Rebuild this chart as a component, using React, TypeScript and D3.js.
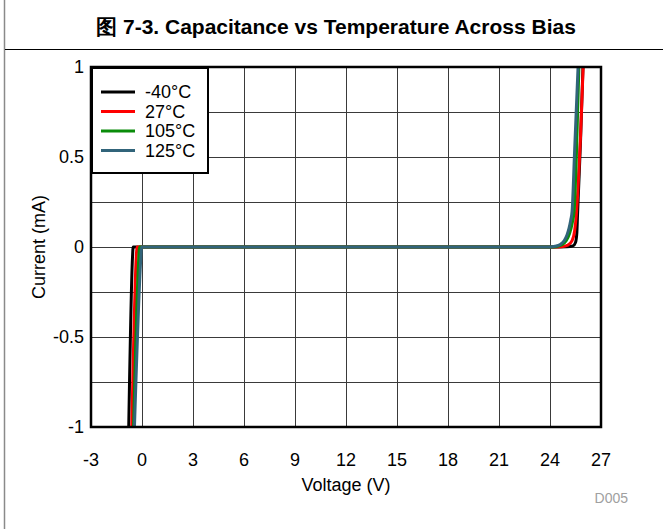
import React from 'react';
import * as d3 from 'd3';

// Temperature series labels and colours
const seriesNames = ['-40°C', '27°C', '105°C', '125°C'];
const seriesColors = ['#000000', '#ff0000', '#0a8c0a', '#31647a'];

// Voltage (V) / current (mA) samples per temperature
const voltsM40 = [-0.79, -0.56, -0.52, 0, 6, 12, 18, 24, 25.0, 25.35, 25.5, 25.58, 25.62, 25.68, 25.8, 25.94, 25.97];
const currM40 = [-1.05, -0.06, 0, 0, 0, 0, 0, 0, 0.001, 0.006, 0.025, 0.08, 0.18, 0.32, 0.6, 1.0, 1.06];

const volts27 = [-0.61, -0.34, -0.3, 0, 6, 12, 18, 24, 24.7, 25.05, 25.3, 25.45, 25.55, 25.65, 25.8, 25.95, 25.98];
const curr27 = [-1.05, -0.06, 0, 0, 0, 0, 0, 0, 0.002, 0.01, 0.035, 0.09, 0.18, 0.33, 0.62, 1.0, 1.06];

const volts105 = [-0.51, -0.19, -0.15, 0, 6, 12, 18, 24, 24.4, 24.7, 24.95, 25.15, 25.3, 25.42, 25.55, 25.7, 25.72];
const curr105 = [-1.05, -0.06, 0, 0, 0, 0, 0, 0, 0.003, 0.012, 0.035, 0.075, 0.13, 0.2, 0.5, 1.0, 1.05];

const volts125 = [-0.46, -0.07, -0.03, 0, 6, 12, 18, 24, 24.3, 24.6, 24.85, 25.0, 25.12, 25.22, 25.3, 25.45, 25.65, 25.68];
const curr125 = [-1.05, -0.06, 0, 0, 0, 0, 0, 0, 0.004, 0.014, 0.038, 0.067, 0.105, 0.15, 0.2, 0.54, 1.0, 1.07];

const xTicks = [-3, 0, 3, 6, 9, 12, 15, 18, 21, 24, 27];
const yTicks = [-1, -0.5, 0, 0.5, 1];
const yGrid = [-1, -0.75, -0.5, -0.25, 0, 0.25, 0.5, 0.75, 1];

const titleText = '图 7-3. Capacitance vs Temperature Across Bias';
const xTitle = 'Voltage (V)';
const yTitle = 'Current (mA)';
const figId = 'D005';

const W = 663;
const H = 529;
const plot = { left: 91, right: 601, top: 67, bottom: 427 };
const font = '"Liberation Sans", Arial, Helvetica, sans-serif';

export default function App() {
  const x = d3.scaleLinear().domain([-3, 27]).range([plot.left, plot.right]);
  const y = d3.scaleLinear().domain([-1, 1]).range([plot.bottom, plot.top]);

  const series = [
    { v: voltsM40, i: currM40 },
    { v: volts27, i: curr27 },
    { v: volts105, i: curr105 },
    { v: volts125, i: curr125 },
  ];

  const line = d3
    .line<[number, number]>()
    .x((d) => x(d[0]))
    .y((d) => y(d[1]))
    .curve(d3.curveMonotoneX);

  const legend = { x: 92, y: 68, w: 116, h: 105 };

  return (
    <svg
      width={W}
      height={H}
      viewBox={`0 0 ${W} ${H}`}
      style={{ position: 'absolute', left: 0, top: 0, background: '#fff' }}
      fontFamily={font}
    >
      <defs>
        <clipPath id="plotClip">
          <rect x={plot.left} y={plot.top} width={plot.right - plot.left} height={plot.bottom - plot.top} />
        </clipPath>
      </defs>

      {/* page frame */}
      <line x1={4.5} x2={4.5} y1={0} y2={H} stroke="#8a8a8a" strokeWidth={1.5} />
      <line x1={5} x2={W} y1={49.5} y2={49.5} stroke="#000" strokeWidth={1} />

      <text x={336} y={34} textAnchor="middle" fontSize={21} fontWeight="bold" fill="#000">
        {titleText}
      </text>

      {/* grid */}
      <g stroke="#3a3a3a" strokeWidth={1}>
        {xTicks.map((t) => (
          <line key={`gx${t}`} x1={Math.round(x(t)) + 0.5} x2={Math.round(x(t)) + 0.5} y1={plot.top} y2={plot.bottom} />
        ))}
        {yGrid.map((t) => (
          <line key={`gy${t}`} x1={plot.left} x2={plot.right} y1={Math.round(y(t)) + 0.5} y2={Math.round(y(t)) + 0.5} />
        ))}
      </g>

      {/* curves */}
      <g clipPath="url(#plotClip)" fill="none" strokeWidth={3} strokeLinejoin="round">
        {series.map((s, k) => (
          <path
            key={k}
            d={line(s.v.map((v, j) => [v, s.i[j]] as [number, number])) || ''}
            stroke={seriesColors[k]}
          />
        ))}
      </g>

      {/* legend */}
      <rect x={legend.x} y={legend.y} width={legend.w} height={legend.h} fill="#fff" stroke="#000" strokeWidth={2} />
      {seriesNames.map((n, k) => {
        const cy = 92 + k * 19.5;
        return (
          <g key={n}>
            <line x1={101} x2={135} y1={cy} y2={cy} stroke={seriesColors[k]} strokeWidth={3} />
            <text x={145} y={cy + 6} fontSize={18} fill="#000">
              {n}
            </text>
          </g>
        );
      })}

      {/* plot frame */}
      <rect
        x={plot.left}
        y={plot.top}
        width={plot.right - plot.left}
        height={plot.bottom - plot.top}
        fill="none"
        stroke="#000"
        strokeWidth={2.5}
      />

      {/* axis labels */}
      {xTicks.map((t) => (
        <text key={`tx${t}`} x={x(t)} y={466} textAnchor="middle" fontSize={18} fill="#000">
          {t}
        </text>
      ))}
      {yTicks.map((t) => (
        <text key={`ty${t}`} x={84} y={y(t) + 6} textAnchor="end" fontSize={18} fill="#000">
          {t}
        </text>
      ))}
      <text x={346} y={491} textAnchor="middle" fontSize={18} fill="#000">
        {xTitle}
      </text>
      <text
        transform={`translate(45, ${y(0)}) rotate(-90)`}
        textAnchor="middle"
        fontSize={18}
        fill="#000"
      >
        {yTitle}
      </text>
      <text x={628} y={503} textAnchor="end" fontSize={14} fill="#a0a0a0">
        {figId}
      </text>
    </svg>
  );
}
